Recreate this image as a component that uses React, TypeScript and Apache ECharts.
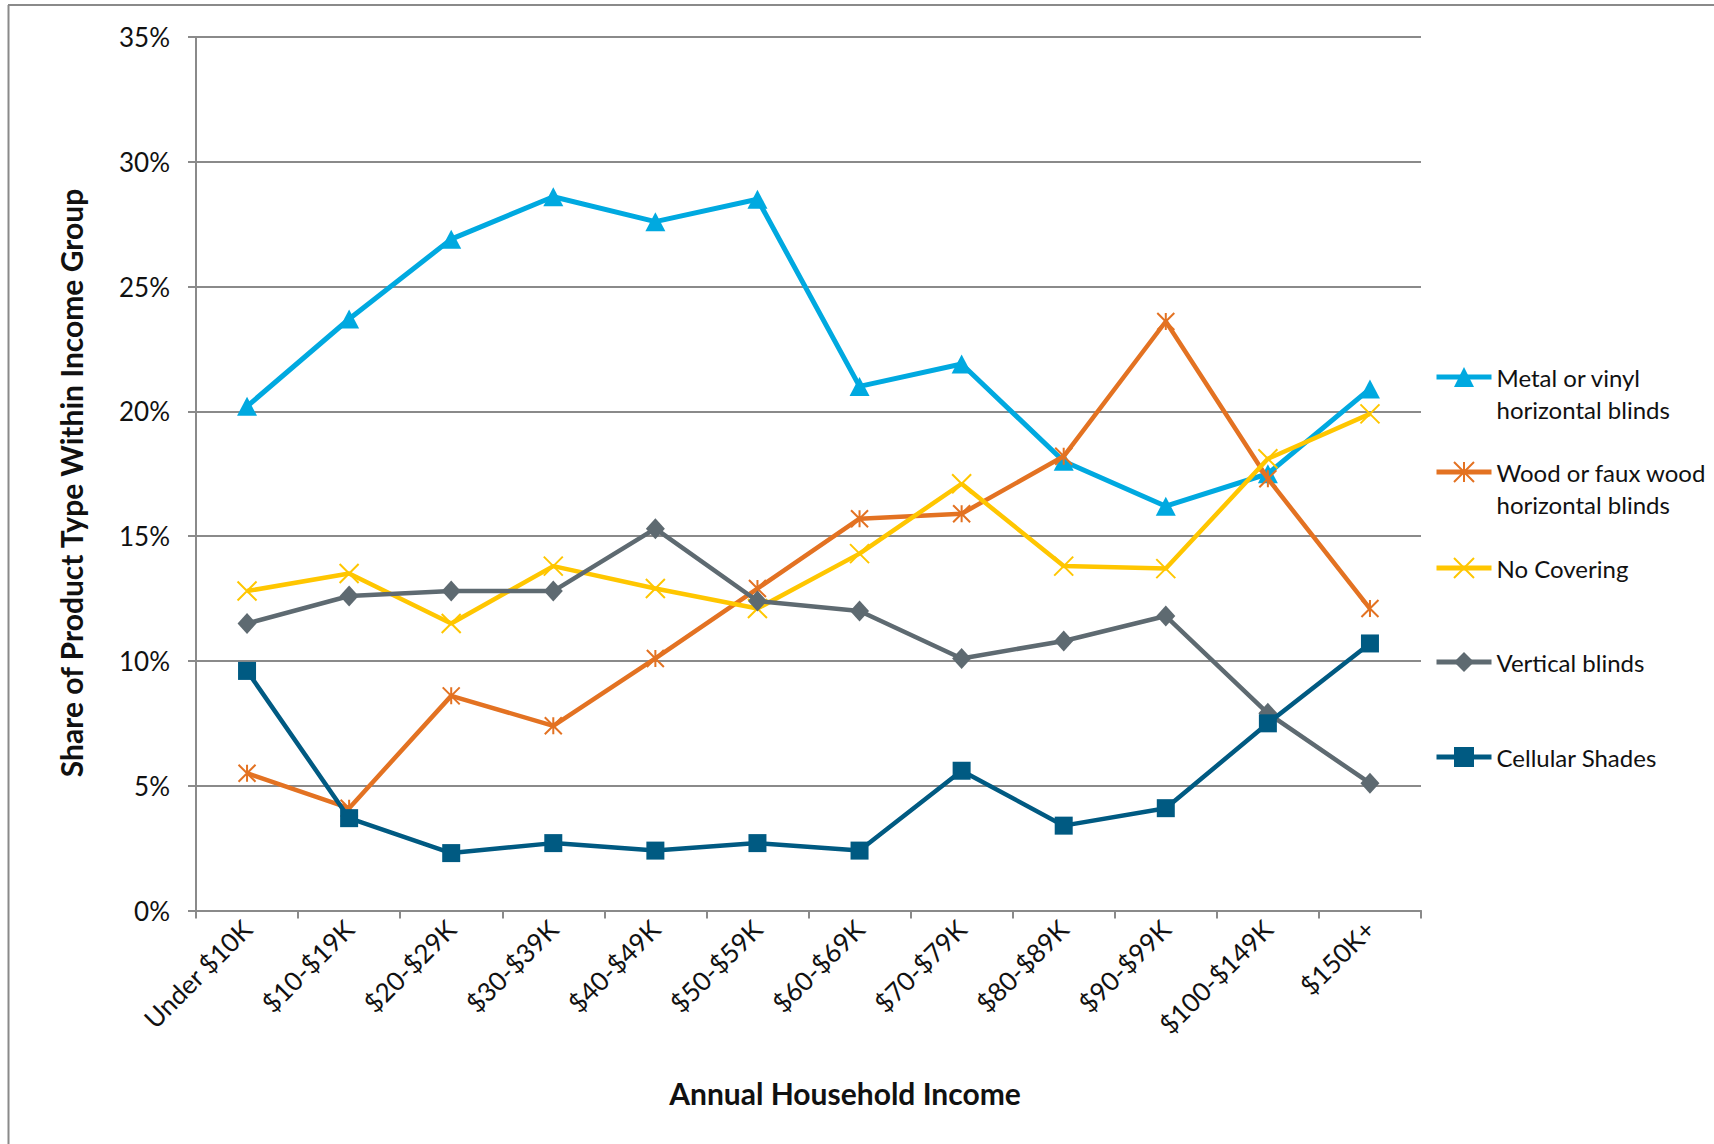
import React, { useEffect, useRef } from "react";
import * as echarts from "echarts";

const categories = [
  "Under $10K",
  "$10-$19K",
  "$20-$29K",
  "$30-$39K",
  "$40-$49K",
  "$50-$59K",
  "$60-$69K",
  "$70-$79K",
  "$80-$89K",
  "$90-$99K",
  "$100-$149K",
  "$150K+",
];

const metalVinyl = [20.2, 23.7, 26.9, 28.6, 27.6, 28.5, 21.0, 21.9, 18.0, 16.2, 17.5, 20.9];
const woodFaux = [5.5, 4.1, 8.6, 7.4, 10.1, 12.9, 15.7, 15.9, 18.2, 23.6, 17.3, 12.1];
const noCovering = [12.8, 13.5, 11.5, 13.8, 12.9, 12.1, 14.3, 17.1, 13.8, 13.7, 18.1, 19.9];
const verticalBlinds = [11.5, 12.6, 12.8, 12.8, 15.3, 12.4, 12.0, 10.1, 10.8, 11.8, 7.9, 5.1];
const cellularShades = [9.6, 3.7, 2.3, 2.7, 2.4, 2.7, 2.4, 5.6, 3.4, 4.1, 7.5, 10.7];

const seriesNames = [
  "Metal or vinyl horizontal blinds",
  "Wood or faux wood horizontal blinds",
  "No Covering",
  "Vertical blinds",
  "Cellular Shades",
];
const legendLabels = [
  "\nMetal or vinyl\nhorizontal blinds",
  "\nWood or faux wood\nhorizontal blinds",
  "No Covering",
  "Vertical blinds",
  "Cellular Shades",
];

const yAxisTitle = "Share of Product Type Within Income Group";
const xAxisTitle = "Annual Household Income";

const FONT = "Lato";
const TEXT = "#111111";
const GRID = "#8a8a8a";

const ASTERISK = "path://M0,0L20,20M20,0L0,20M10,0L10,20";
const CROSS = "path://M0,0L20,20M20,0L0,20";

export default function App() {
  const ref = useRef<HTMLDivElement>(null);

  useEffect(() => {
    if (!ref.current) return;
    const chart = echarts.init(ref.current, undefined, { renderer: "svg" });

    const colors = ["#00a9e0", "#e37222", "#ffc600", "#5e6a71", "#005a82"];
    const datas = [metalVinyl, woodFaux, noCovering, verticalBlinds, cellularShades];
    const symbols: any[] = ["triangle", ASTERISK, CROSS, "diamond", "rect"];
    const symbolSizes: any[] = [[20, 19], 17, 19, [19, 21], 18];
    const lineWidths = [5, 4.5, 4.5, 4.5, 4.5];

    const series = datas.map((d, i) => ({
      name: seriesNames[i],
      type: "line",
      data: d,
      symbol: symbols[i],
      symbolSize: symbolSizes[i],
      showAllSymbol: true,
      lineStyle: { color: colors[i], width: lineWidths[i] },
      itemStyle:
        i === 1 || i === 2
          ? { color: colors[i], borderColor: colors[i], borderWidth: 2 }
          : { color: colors[i], borderColor: colors[i], borderWidth: 0 },
      emphasis: { disabled: true },
      z: 2 + i,
    }));

    const iconCenters = [377, 472, 568, 662, 757];
    const legends = seriesNames.map((name, i) => {
      const twoLine = legendLabels[i].startsWith("\n");
      return {
        data: [name],
        orient: "vertical",
        left: 1434,
        top: iconCenters[i] - (twoLine ? 48 : 16),
        padding: 0,
        itemWidth: 55,
        itemHeight: 25,
        selectedMode: false,
        lineStyle: { width: 5 },
        formatter: () => legendLabels[i],
        textStyle: { fontFamily: FONT, fontSize: 24, color: TEXT, lineHeight: 32 },
      };
    });

    chart.setOption({
      animation: false,
      backgroundColor: "#ffffff",
      color: colors,
      grid: { left: 196, right: 293, top: 37, bottom: 233.5, containLabel: false, outerBoundsMode: "none" },
      legend: legends,
      xAxis: {
        type: "category",
        data: categories,
        boundaryGap: true,
        axisLine: { show: true, lineStyle: { color: GRID, width: 2 } },
        axisTick: { show: true, length: 8, alignWithLabel: false, interval: 0, lineStyle: { color: GRID, width: 2 } },
        axisLabel: {
          interval: 0,
          rotate: 45,
          margin: 14,
          fontFamily: FONT,
          fontSize: 26,
          color: TEXT,
        },
        splitLine: { show: false },
      },
      yAxis: {
        type: "value",
        min: 0,
        max: 35,
        interval: 5,
        axisLine: { show: true, lineStyle: { color: GRID, width: 2 } },
        axisTick: { show: true, length: 8, lineStyle: { color: GRID, width: 2 } },
        axisLabel: {
          formatter: "{value}%",
          margin: 26,
          fontFamily: FONT,
          fontSize: 26,
          color: TEXT,
        },
        splitLine: { show: true, lineStyle: { color: GRID, width: 2 } },
      },
      graphic: [
        { type: "line", shape: { x1: 8.5, y1: 5, x2: 8.5, y2: 1144 }, style: { stroke: "#8a8a8a", lineWidth: 2 } },
        { type: "line", shape: { x1: 8, y1: 5, x2: 1714, y2: 5 }, style: { stroke: "#8a8a8a", lineWidth: 2 } },
        {
          type: "text",
          x: 71,
          y: 483,
          rotation: Math.PI / 2,
          style: {
            text: yAxisTitle,
            font: `bold 30px ${FONT}`,
            fill: TEXT,
            align: "center",
            verticalAlign: "middle",
            textAlign: "center",
            textVerticalAlign: "middle",
          },
        },
        {
          type: "text",
          x: 845,
          y: 1093,
          style: {
            text: xAxisTitle,
            font: `bold 30px ${FONT}`,
            fill: TEXT,
            align: "center",
            verticalAlign: "middle",
            textAlign: "center",
            textVerticalAlign: "middle",
          },
        },
      ],
      series,
    });

    return () => chart.dispose();
  }, []);

  return (
    <div
      ref={ref}
      style={{ position: "absolute", left: 0, top: 0, width: 1714, height: 1144, background: "#fff" }}
    />
  );
}
